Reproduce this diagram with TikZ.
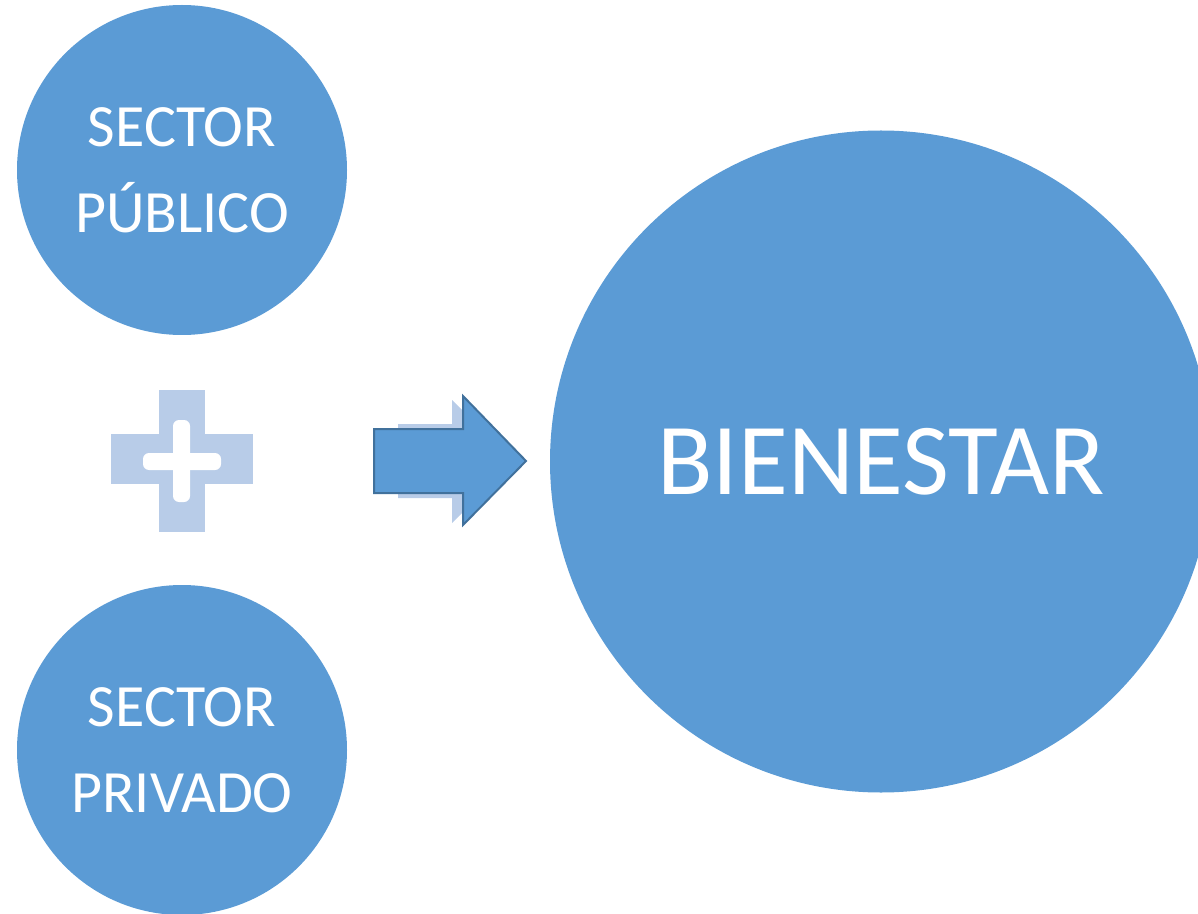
\documentclass[tikz,border=0pt]{standalone}
\usepackage{fontspec}
\setmainfont{Carlito}
\usetikzlibrary{positioning}
\definecolor{blueA}{HTML}{5B9BD5}
\definecolor{blueL}{HTML}{B8CCE8}
\definecolor{blueD}{HTML}{41719C}

\begin{document}
\begin{tikzpicture}[x=0.5pt,y=-0.5pt,
    bubble/.style={circle,fill=blueA,text=white,inner sep=0pt,align=center}]
    \useasboundingbox (0,0) rectangle (1198,914);
    \clip (0,0) rectangle (1198,914);
    \node[bubble,minimum size=165pt,font=\fontsize{30}{43}\selectfont] (publico) at (182,170) {SECTOR\\PÚBLICO};
    \node[bubble,minimum size=165pt,font=\fontsize{30}{43}\selectfont] (privado) at (182,750) {SECTOR\\PRIVADO};
    \node[bubble,minimum size=331pt,font=\fontsize{51}{60}\selectfont] (bienestar) at (881,461.5) {BIENESTAR};
    % plus sign
    \fill[blueL] (159,390) rectangle (205,532);
    \fill[blueL] (111,434) rectangle (253,484);
    \fill[white,rounded corners=3pt] (173,420) rectangle (190,502);
    \fill[white,rounded corners=3pt] (143,453) rectangle (221,470);
    % arrow with its light copy behind
    \fill[blueL] (398,424) -- (452,424) -- (452,400) -- (514,461) -- (452,523) -- (452,498) -- (398,498) -- cycle;
    \filldraw[fill=blueA,draw=blueD,line width=1pt] (374,429) -- (463,429) -- (463,396) -- (526,461) -- (463,525) -- (463,493) -- (374,493) -- cycle;
\end{tikzpicture}
\end{document}
